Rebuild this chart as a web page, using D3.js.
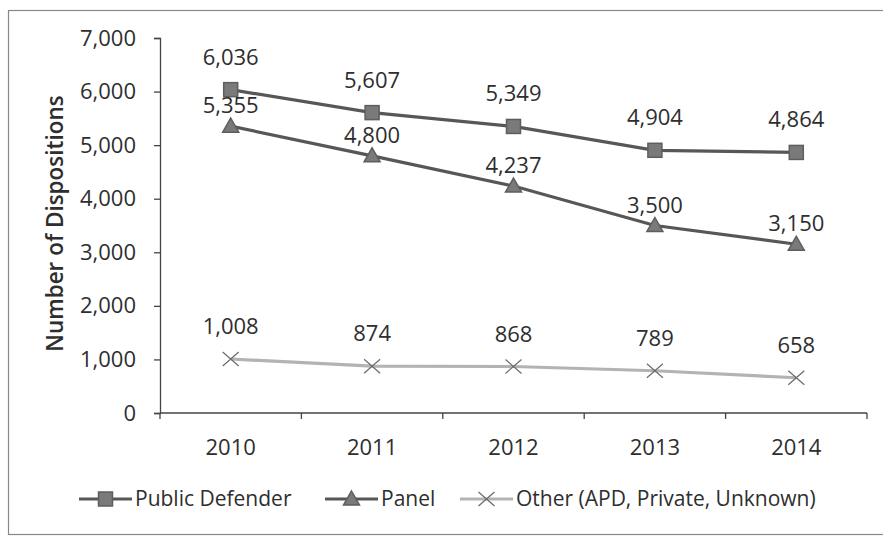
<!DOCTYPE html>
<html>
<head>
<meta charset="utf-8">
<script src="https://cdn.jsdelivr.net/npm/d3@7"></script>
<style>
  html, body { margin: 0; padding: 0; background: #fff; }
  svg text { font-family: "Open Sans", "Liberation Sans", sans-serif; fill: #2e2e2e; }
</style>
</head>
<body>
<svg id="chart" width="883" height="537"></svg>
<script>
// Dispositions by year and representation type
const years = ["2010", "2011", "2012", "2013", "2014"];
const publicDefender = [6036, 5607, 5349, 4904, 4864];
const panel = [5355, 4800, 4237, 3500, 3150];
const other = [1008, 874, 868, 789, 658];
const yTicks = [0, 1000, 2000, 3000, 4000, 5000, 6000, 7000];
const seriesNames = ["Public Defender", "Panel", "Other (APD, Private, Unknown)"];

const svg = d3.select("#chart");
const W = 883, H = 537;
const margin = { left: 160, right: 16, top: 38, bottom: 124 };

// outer frame
svg.append("rect")
  .attr("x", 8.5).attr("y", 10.5)
  .attr("width", W + 10).attr("height", 524)
  .attr("fill", "#fff").attr("stroke", "#888").attr("stroke-width", 1.2);

const x = d3.scaleBand().domain(years).range([margin.left, W - margin.right]);
const y = d3.scaleLinear().domain([0, 7000]).range([H - margin.bottom, margin.top]);
const fmt = d3.format(",");

// y axis
const yAxis = svg.append("g")
  .attr("transform", `translate(${margin.left},0)`)
  .call(d3.axisLeft(y).tickValues(yTicks).tickFormat(fmt).tickSize(6).tickPadding(18));
yAxis.select(".domain").attr("stroke", "#444").attr("stroke-width", 1.3);
yAxis.selectAll(".tick line").attr("stroke", "#444").attr("stroke-width", 1.3);
yAxis.selectAll("text").style("font-size", "22px").attr("fill", "#2e2e2e");

// x axis: ticks on category boundaries
const xAxisG = svg.append("g").attr("transform", `translate(0,${H - margin.bottom})`);
xAxisG.append("line")
  .attr("x1", margin.left).attr("x2", W - margin.right)
  .attr("stroke", "#444").attr("stroke-width", 1.3);
const bounds = years.map(d => x(d)).concat([x(years[years.length - 1]) + x.bandwidth()]);
xAxisG.selectAll("line.tk").data(bounds).join("line")
  .attr("class", "tk")
  .attr("x1", d => d).attr("x2", d => d)
  .attr("y1", 0).attr("y2", 6)
  .attr("stroke", "#444").attr("stroke-width", 1.3);
xAxisG.selectAll("text").data(years).join("text")
  .attr("x", d => x(d) + x.bandwidth() / 2)
  .attr("y", 42)
  .attr("text-anchor", "middle")
  .style("font-size", "22px")
  .text(d => d);

// y axis title
svg.append("text")
  .attr("transform", `translate(63,${(margin.top + H - margin.bottom) / 2 - 2}) rotate(-90)`)
  .attr("text-anchor", "middle")
  .style("font-size", "22.5px")
  .style("font-weight", "600")
  .text("Number of Dispositions");

const cx = d => x(d) + x.bandwidth() / 2;
const line = d3.line().x(d => cx(d.year)).y(d => y(d.value));

const series = [
  { name: seriesNames[0], values: publicDefender, stroke: "#575757", fill: "#7a7a7a", marker: "square", labelDy: -25 },
  { name: seriesNames[1], values: panel, stroke: "#575757", fill: "#7a7a7a", marker: "triangle", labelDy: -13 },
  { name: seriesNames[2], values: other, stroke: "#b3b3b3", fill: "none", marker: "cross", labelDy: -25 }
];

function drawMarker(g, type, s) {
  if (type === "square") {
    g.append("rect").attr("x", -7).attr("y", -7).attr("width", 14).attr("height", 14)
      .attr("fill", s.fill).attr("stroke", "#5e5e5e").attr("stroke-width", 1.5);
  } else if (type === "triangle") {
    g.append("path").attr("d", "M0,-8L8,6L-8,6Z")
      .attr("fill", s.fill).attr("stroke", "#5e5e5e").attr("stroke-width", 1.5);
  } else {
    g.append("path").attr("d", "M-8,-7L8,7M-8,7L8,-7")
      .attr("fill", "none").attr("stroke", "#6a6a6a").attr("stroke-width", 1.2);
  }
}

series.forEach(s => {
  const pts = years.map((yr, i) => ({ year: yr, value: s.values[i] }));
  svg.append("path").datum(pts)
    .attr("d", line)
    .attr("fill", "none")
    .attr("stroke", s.stroke)
    .attr("stroke-width", 3.2);
  pts.forEach(p => {
    const g = svg.append("g").attr("transform", `translate(${cx(p.year)},${y(p.value)})`);
    drawMarker(g, s.marker, s);
  });
  svg.append("g").selectAll("text").data(pts).join("text")
    .attr("x", d => cx(d.year))
    .attr("y", d => y(d.value) + s.labelDy)
    .attr("text-anchor", "middle")
    .style("font-size", "22px")
    .text(d => fmt(d.value));
});

// legend
const legendY = 499;
const legendItems = [
  { s: series[0], x0: 79 },
  { s: series[1], x0: 325 },
  { s: series[2], x0: 460 }
];
legendItems.forEach(({ s, x0 }) => {
  const g = svg.append("g").attr("transform", `translate(${x0},${legendY})`);
  g.append("line").attr("x1", 0).attr("x2", 53)
    .attr("stroke", s.stroke).attr("stroke-width", 3.2);
  const m = g.append("g").attr("transform", "translate(26.5,0)");
  drawMarker(m, s.marker, s);
  g.append("text").attr("x", 56).attr("y", 7)
    .style("font-size", "21px")
    .text(s.name);
});
</script>
</body>
</html>
